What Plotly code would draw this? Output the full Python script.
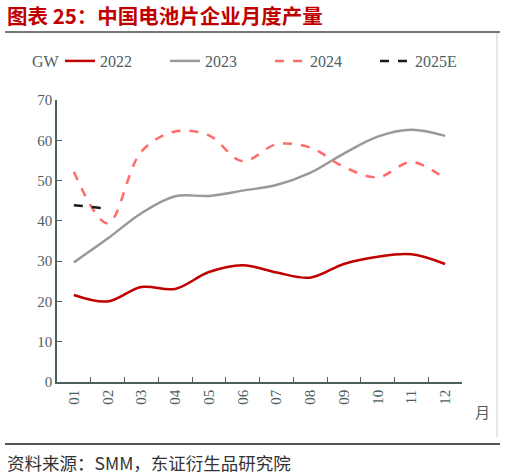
import plotly.graph_objects as go

months = ["01", "02", "03", "04", "05", "06", "07", "08", "09", "10", "11", "12"]
y2022 = [21.6, 20.0, 23.6, 23.1, 27.3, 29.0, 27.2, 25.9, 29.3, 31.1, 31.7, 29.3]
y2023 = [29.7, 35.6, 41.9, 46.1, 46.2, 47.5, 48.9, 51.9, 56.7, 60.9, 62.6, 61.1]
y2024 = [52.2, 39.4, 57.2, 62.2, 61.2, 54.8, 59.0, 58.2, 53.4, 50.8, 54.6, 50.4]
y2025 = [43.9, 43.0]

AXIS = "#4d5f5f"
TXT = "#4d5f5f"

# plot area in pixels: left 57, right 462, top 100, bottom 382
def px(x):
    return (x - 57) / 405.0

def py(y):
    return (382 - y) / 282.0

fig = go.Figure()
fig.add_trace(go.Scatter(x=months, y=y2022, name="2022", mode="lines",
                         line=dict(color="#C00000", width=2.5, shape="spline", smoothing=1)))
fig.add_trace(go.Scatter(x=months, y=y2023, name="2023", mode="lines",
                         line=dict(color="#999999", width=2.5, shape="spline", smoothing=1)))
fig.add_trace(go.Scatter(x=months, y=y2024, name="2024", mode="lines",
                         line=dict(color="#FF6B6B", width=2.5, shape="spline", smoothing=1, dash="dash")))
fig.add_trace(go.Scatter(x=months[:2], y=y2025, name="2025E", mode="lines",
                         line=dict(color="#1a1a1a", width=2.5, dash="dash")))

fig.update_layout(
    width=505, height=476,
    margin=dict(l=57, r=43, t=100, b=94),
    paper_bgcolor="white", plot_bgcolor="white",
    font=dict(family="Liberation Serif, Noto Sans CJK SC", size=15, color=TXT),
    showlegend=True,
    # anchored right of the plot area so the legend may use the margin and stay on one row
    legend=dict(orientation="h", x=px(480), y=py(61), xanchor="right", yanchor="middle",
                font=dict(size=16, color=TXT), entrywidth=60, bgcolor="rgba(0,0,0,0)",
                tracegroupgap=0),
    xaxis=dict(type="category", range=[-0.5, 11.5], showline=True, linecolor=AXIS, linewidth=1.5,
               ticks="inside", tickson="boundaries", ticklen=5, tickcolor=AXIS,
               tickangle=-90, showgrid=False, zeroline=False,
               tickfont=dict(size=15, color=TXT)),
    yaxis=dict(range=[0, 70], dtick=10, showline=True, linecolor=AXIS, linewidth=1.5,
               ticks="inside", ticklen=5, tickcolor=AXIS, showgrid=False, zeroline=False,
               tickfont=dict(size=15, color=TXT)),
)

# title, units, source
fig.add_annotation(text="<b>图表 25：中国电池片企业月度产量</b>", xref="paper", yref="paper",
                   x=px(5), y=py(15), xanchor="left", yanchor="middle", showarrow=False,
                   font=dict(size=20.5, color="#C00000", family="Noto Sans CJK SC"))
fig.add_annotation(text="GW", xref="paper", yref="paper", x=px(30), y=py(62),
                   xanchor="left", yanchor="middle", showarrow=False,
                   font=dict(size=16, color=TXT))
fig.add_annotation(text="月", xref="paper", yref="paper", x=px(482), y=py(411),
                   xanchor="center", yanchor="middle", showarrow=False,
                   font=dict(size=15, color=TXT, family="Noto Sans CJK SC"))
fig.add_annotation(text="资料来源：SMM，东证衍生品研究院", xref="paper", yref="paper",
                   x=px(5), y=py(462), xanchor="left", yanchor="middle", showarrow=False,
                   font=dict(size=17.5, color="#333333", family="Noto Sans CJK SC"))

# frame lines
fig.add_shape(type="line", xref="paper", yref="paper", x0=px(5), x1=px(500), y0=py(32), y1=py(32),
              line=dict(color="#777777", width=2))
fig.add_shape(type="line", xref="paper", yref="paper", x0=px(5), x1=px(500), y0=py(444), y1=py(444),
              line=dict(color="#555555", width=2))
fig.add_shape(type="line", xref="paper", yref="paper", x0=px(497), x1=px(497), y0=py(33), y1=py(437),
              line=dict(color="#cccccc", width=1))

# drop the default page margin so the figure sits at the window's corner
fig.write_html("out.html", config={"displayModeBar": False},
               post_script="document.body.style.margin='0';")
